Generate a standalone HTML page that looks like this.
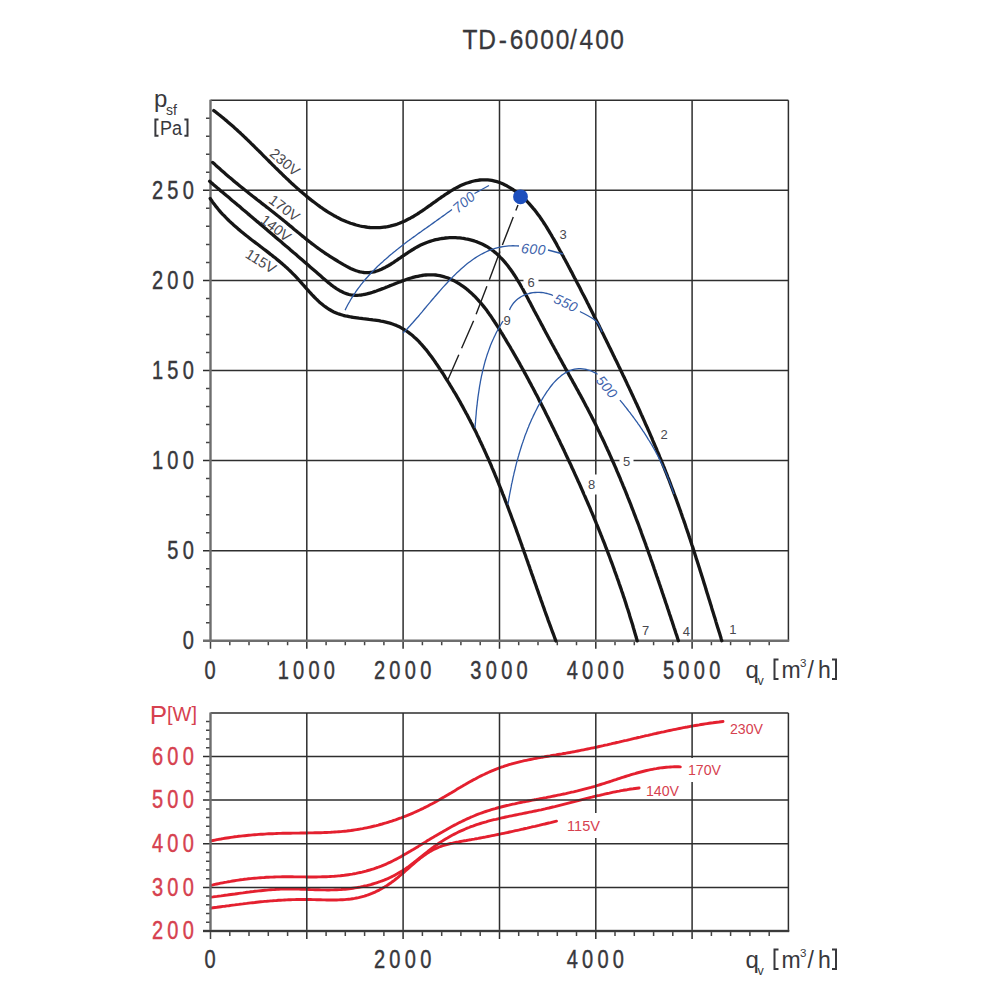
<!DOCTYPE html><html><head><meta charset="utf-8"><style>html,body{margin:0;padding:0;background:#fff;}svg{display:block;}text{font-family:"Liberation Sans",sans-serif;}</style></head><body>
<svg width="1000" height="1000" viewBox="0 0 1000 1000">
<rect width="1000" height="1000" fill="#fff"/>
<text transform="translate(470.0,49.1) scale(0.86,1)" font-size="28.5" fill="#38383c" stroke="#38383c" stroke-width="0.3" text-anchor="middle">T</text>
<text transform="translate(487.0,49.1) scale(0.86,1)" font-size="28.5" fill="#38383c" stroke="#38383c" stroke-width="0.3" text-anchor="middle">D</text>
<text transform="translate(502.8,49.1) scale(0.86,1)" font-size="28.5" fill="#38383c" stroke="#38383c" stroke-width="0.3" text-anchor="middle">-</text>
<text transform="translate(516.5,49.1) scale(0.86,1)" font-size="28.5" fill="#38383c" stroke="#38383c" stroke-width="0.3" text-anchor="middle">6</text>
<text transform="translate(531.5,49.1) scale(0.86,1)" font-size="28.5" fill="#38383c" stroke="#38383c" stroke-width="0.3" text-anchor="middle">0</text>
<text transform="translate(547.0,49.1) scale(0.86,1)" font-size="28.5" fill="#38383c" stroke="#38383c" stroke-width="0.3" text-anchor="middle">0</text>
<text transform="translate(562.5,49.1) scale(0.86,1)" font-size="28.5" fill="#38383c" stroke="#38383c" stroke-width="0.3" text-anchor="middle">0</text>
<text transform="translate(573.5,49.1) scale(0.86,1)" font-size="28.5" fill="#38383c" stroke="#38383c" stroke-width="0.3" text-anchor="middle">/</text>
<text transform="translate(586.3,49.1) scale(0.86,1)" font-size="28.5" fill="#38383c" stroke="#38383c" stroke-width="0.3" text-anchor="middle">4</text>
<text transform="translate(602.0,49.1) scale(0.86,1)" font-size="28.5" fill="#38383c" stroke="#38383c" stroke-width="0.3" text-anchor="middle">0</text>
<text transform="translate(617.0,49.1) scale(0.86,1)" font-size="28.5" fill="#38383c" stroke="#38383c" stroke-width="0.3" text-anchor="middle">0</text>
<path d="M306.8,100.2V648.8 M403.1,100.2V648.8 M499.5,100.2V648.8 M595.8,100.2V648.8 M692.1,100.2V648.8 M203.0,550.7H788.4 M203.0,460.6H788.4 M203.0,370.5H788.4 M203.0,280.4H788.4 M203.0,190.3H788.4 M210.5,100.2H788.4 M788.4,100.2V640.8" stroke="#2e2e2e" stroke-width="1.5" fill="none"/>
<path d="M206.0,622.8H210.5 M206.0,604.8H210.5 M206.0,586.7H210.5 M206.0,568.7H210.5 M206.0,532.7H210.5 M206.0,514.7H210.5 M206.0,496.6H210.5 M206.0,478.6H210.5 M206.0,442.6H210.5 M206.0,424.6H210.5 M206.0,406.5H210.5 M206.0,388.5H210.5 M206.0,352.5H210.5 M206.0,334.5H210.5 M206.0,316.4H210.5 M206.0,298.4H210.5 M206.0,262.4H210.5 M206.0,244.4H210.5 M206.0,226.3H210.5 M206.0,208.3H210.5 M206.0,172.3H210.5 M206.0,154.3H210.5 M206.0,136.2H210.5 M206.0,118.2H210.5 M229.8,640.8V645.3 M249.0,640.8V645.3 M268.3,640.8V645.3 M287.6,640.8V645.3 M326.1,640.8V645.3 M345.3,640.8V645.3 M364.6,640.8V645.3 M383.9,640.8V645.3 M422.4,640.8V645.3 M441.7,640.8V645.3 M460.9,640.8V645.3 M480.2,640.8V645.3 M518.7,640.8V645.3 M538.0,640.8V645.3 M557.3,640.8V645.3 M576.5,640.8V645.3 M615.0,640.8V645.3 M634.3,640.8V645.3 M653.6,640.8V645.3 M672.8,640.8V645.3 M711.4,640.8V645.3 M730.6,640.8V645.3 M749.9,640.8V645.3 M769.2,640.8V645.3 M210.5,640.8V648.8" stroke="#444" stroke-width="1.5" fill="none"/>
<path d="M210.5,99.7V641.8 M203.0,640.8H789.2" stroke="#6e6e6e" stroke-width="2.4" fill="none"/>
<path d="M213.8,110.6 L215.4,111.8 L216.9,113.0 L218.5,114.3 L220.1,115.5 L221.6,116.7 L223.2,118.0 L224.7,119.3 L226.3,120.6 L227.8,121.9 L229.3,123.2 L230.8,124.5 L232.3,125.8 L233.8,127.1 L235.3,128.5 L236.8,129.8 L238.3,131.2 L239.8,132.5 L241.2,133.9 L242.7,135.3 L244.1,136.6 L245.6,138.0 L247.0,139.4 L248.5,140.8 L249.9,142.2 L251.3,143.6 L252.8,145.0 L254.2,146.4 L255.6,147.8 L257.0,149.2 L258.5,150.6 L259.9,152.0 L261.3,153.4 L262.7,154.9 L264.1,156.3 L265.5,157.7 L266.9,159.1 L268.4,160.5 L269.8,162.0 L271.2,163.4 L272.6,164.8 L274.0,166.2 L275.4,167.6 L276.9,169.0 L278.3,170.4 L279.7,171.8 L281.2,173.2 L282.6,174.6 L284.0,176.0 L285.5,177.4 L286.9,178.8 L288.4,180.1 L289.8,181.5 L291.3,182.9 L292.8,184.2 L294.3,185.6 L295.7,186.9 L297.2,188.3 L298.7,189.6 L300.2,190.9 L301.8,192.2 L303.3,193.5 L304.8,194.8 L306.3,196.1 L307.9,197.4 L309.4,198.6 L311.0,199.9 L312.6,201.1 L314.2,202.3 L315.8,203.5 L317.4,204.7 L319.0,205.9 L320.6,207.1 L322.3,208.2 L323.9,209.4 L325.6,210.5 L327.3,211.6 L328.9,212.6 L330.7,213.7 L332.4,214.7 L334.1,215.7 L335.9,216.6 L337.6,217.6 L339.4,218.5 L341.2,219.4 L343.0,220.2 L344.9,221.0 L346.7,221.8 L348.6,222.5 L350.5,223.2 L352.4,223.8 L354.3,224.4 L356.2,225.0 L358.1,225.5 L360.1,226.0 L362.0,226.4 L364.0,226.7 L366.0,227.0 L368.0,227.3 L370.0,227.5 L372.0,227.6 L374.0,227.7 L376.0,227.7 L378.0,227.7 L380.0,227.6 L382.0,227.4 L383.9,227.2 L385.9,227.0 L387.9,226.6 L389.9,226.2 L391.8,225.7 L393.7,225.2 L395.7,224.6 L397.5,224.0 L399.4,223.3 L401.3,222.5 L403.1,221.7 L404.9,220.9 L406.7,220.0 L408.5,219.1 L410.3,218.2 L412.0,217.2 L413.8,216.2 L415.5,215.1 L417.2,214.1 L418.9,213.0 L420.5,211.9 L422.2,210.8 L423.9,209.7 L425.5,208.5 L427.1,207.4 L428.8,206.2 L430.4,205.1 L432.0,203.9 L433.7,202.7 L435.3,201.6 L436.9,200.4 L438.5,199.2 L440.2,198.1 L441.8,196.9 L443.5,195.8 L445.1,194.7 L446.8,193.6 L448.5,192.5 L450.2,191.4 L451.9,190.4 L453.6,189.3 L455.3,188.4 L457.1,187.4 L458.9,186.5 L460.7,185.6 L462.5,184.8 L464.4,184.0 L466.2,183.3 L468.1,182.7 L470.0,182.1 L471.9,181.5 L473.9,181.0 L475.8,180.6 L477.8,180.3 L479.8,180.0 L481.8,179.9 L483.8,179.8 L485.8,179.8 L487.8,179.9 L489.8,180.1 L491.8,180.4 L493.7,180.8 L495.7,181.3 L497.6,181.9 L499.5,182.5 L501.4,183.2 L503.2,184.0 L505.0,184.9 L506.8,185.8 L508.5,186.8 L510.2,187.8 L511.9,188.9 L513.6,190.0 L515.2,191.1 L516.8,192.3 L518.4,193.6 L520.0,194.8 L521.5,196.1 L523.0,197.5 L524.4,198.8 L525.9,200.2 L527.3,201.7 L528.7,203.1 L530.0,204.6 L531.3,206.1 L532.6,207.6 L533.9,209.2 L535.2,210.7 L536.4,212.3 L537.6,213.9 L538.8,215.5 L540.0,217.1 L541.1,218.8 L542.2,220.4 L543.4,222.1 L544.4,223.8 L545.5,225.4 L546.6,227.1 L547.6,228.8 L548.7,230.6 L549.7,232.3 L550.7,234.0 L551.7,235.7 L552.7,237.5 L553.7,239.2 L554.7,240.9 L555.7,242.7 L556.7,244.4 L557.6,246.2 L558.6,248.0 L559.5,249.7 L560.5,251.5 L561.5,253.2 L562.4,255.0 L563.4,256.7 L564.3,258.5 L565.3,260.3 L566.2,262.0 L567.2,263.8 L568.1,265.6 L569.0,267.3 L570.0,269.1 L570.9,270.9 L571.9,272.6 L572.8,274.4 L573.7,276.2 L574.6,278.0 L575.6,279.7 L576.5,281.5 L577.4,283.3 L578.4,285.1 L579.3,286.8 L580.2,288.6 L581.1,290.4 L582.0,292.2 L582.9,293.9 L583.9,295.7 L584.8,297.5 L585.7,299.3 L586.6,301.1 L587.5,302.9 L588.4,304.6 L589.3,306.4 L590.2,308.2 L591.1,310.0 L592.0,311.8 L592.9,313.6 L593.8,315.4 L594.7,317.2 L595.6,318.9 L596.5,320.7 L597.4,322.5 L598.3,324.3 L599.2,326.1 L600.1,327.9 L601.0,329.7 L601.8,331.5 L602.7,333.3 L603.6,335.1 L604.5,336.9 L605.4,338.7 L606.3,340.5 L607.1,342.3 L608.0,344.1 L608.9,345.9 L609.8,347.7 L610.7,349.5 L611.5,351.3 L612.4,353.1 L613.3,354.9 L614.2,356.7 L615.0,358.5 L615.9,360.3 L616.8,362.1 L617.7,363.9 L618.5,365.7 L619.4,367.5 L620.3,369.3 L621.1,371.1 L622.0,372.9 L622.8,374.7 L623.7,376.5 L624.6,378.3 L625.4,380.1 L626.3,381.9 L627.1,383.7 L628.0,385.6 L628.9,387.4 L629.7,389.2 L630.6,391.0 L631.4,392.8 L632.2,394.6 L633.1,396.4 L633.9,398.2 L634.8,400.1 L635.6,401.9 L636.5,403.7 L637.3,405.5 L638.1,407.3 L639.0,409.2 L639.8,411.0 L640.6,412.8 L641.4,414.6 L642.3,416.5 L643.1,418.3 L643.9,420.1 L644.7,421.9 L645.5,423.8 L646.3,425.6 L647.2,427.4 L648.0,429.3 L648.8,431.1 L649.6,432.9 L650.4,434.8 L651.2,436.6 L652.0,438.4 L652.7,440.3 L653.5,442.1 L654.3,444.0 L655.1,445.8 L655.9,447.6 L656.7,449.5 L657.4,451.3 L658.2,453.2 L659.0,455.0 L659.7,456.9 L660.5,458.7 L661.3,460.6 L662.0,462.4 L662.8,464.3 L663.5,466.1 L664.3,468.0 L665.0,469.9 L665.7,471.7 L666.5,473.6 L667.2,475.4 L667.9,477.3 L668.7,479.2 L669.4,481.0 L670.1,482.9 L670.8,484.8 L671.5,486.7 L672.2,488.5 L672.9,490.4 L673.6,492.3 L674.3,494.2 L675.0,496.0 L675.7,497.9 L676.4,499.8 L677.1,501.7 L677.8,503.6 L678.4,505.4 L679.1,507.3 L679.8,509.2 L680.5,511.1 L681.1,513.0 L681.8,514.9 L682.4,516.8 L683.1,518.7 L683.8,520.5 L684.4,522.4 L685.1,524.3 L685.7,526.2 L686.3,528.1 L687.0,530.0 L687.6,531.9 L688.3,533.8 L688.9,535.7 L689.5,537.6 L690.2,539.5 L690.8,541.4 L691.4,543.3 L692.0,545.2 L692.7,547.1 L693.3,549.0 L693.9,550.9 L694.5,552.8 L695.1,554.7 L695.7,556.6 L696.3,558.6 L697.0,560.5 L697.6,562.4 L698.2,564.3 L698.8,566.2 L699.4,568.1 L700.0,570.0 L700.6,571.9 L701.2,573.8 L701.8,575.7 L702.4,577.6 L703.0,579.5 L703.6,581.5 L704.2,583.4 L704.8,585.3 L705.4,587.2 L705.9,589.1 L706.5,591.0 L707.1,592.9 L707.7,594.8 L708.3,596.8 L708.9,598.7 L709.5,600.6 L710.1,602.5 L710.7,604.4 L711.3,606.3 L711.8,608.2 L712.4,610.2 L713.0,612.1 L713.6,614.0 L714.2,615.9 L714.8,617.8 L715.4,619.7 L715.9,621.6 L716.5,623.6 L717.1,625.5 L717.7,627.4 L718.3,629.3 L718.9,631.2 L719.5,633.1 L720.1,635.0 L720.7,636.9 L721.2,638.9 L721.8,640.8" stroke="#161616" stroke-width="3.3" fill="none" stroke-linecap="round" stroke-linejoin="round"/>
<path d="M212.7,162.4 L214.2,163.7 L215.6,165.1 L217.1,166.5 L218.6,167.8 L220.1,169.1 L221.6,170.5 L223.1,171.8 L224.6,173.1 L226.1,174.4 L227.6,175.7 L229.1,177.0 L230.7,178.3 L232.2,179.6 L233.7,180.9 L235.3,182.2 L236.8,183.4 L238.4,184.7 L239.9,186.0 L241.5,187.2 L243.1,188.5 L244.6,189.7 L246.2,191.0 L247.8,192.2 L249.3,193.5 L250.9,194.7 L252.5,196.0 L254.1,197.2 L255.6,198.4 L257.2,199.7 L258.8,200.9 L260.4,202.1 L261.9,203.4 L263.5,204.6 L265.1,205.8 L266.7,207.1 L268.3,208.3 L269.8,209.5 L271.4,210.8 L273.0,212.0 L274.6,213.3 L276.1,214.5 L277.7,215.8 L279.3,217.0 L280.8,218.3 L282.4,219.5 L283.9,220.8 L285.5,222.0 L287.0,223.3 L288.6,224.6 L290.1,225.9 L291.7,227.1 L293.2,228.4 L294.7,229.7 L296.3,231.0 L297.8,232.3 L299.4,233.5 L300.9,234.8 L302.5,236.1 L304.0,237.3 L305.6,238.6 L307.1,239.9 L308.7,241.1 L310.3,242.3 L311.9,243.6 L313.5,244.8 L315.1,246.0 L316.7,247.2 L318.3,248.4 L319.9,249.5 L321.5,250.7 L323.2,251.8 L324.8,253.0 L326.5,254.1 L328.2,255.2 L329.9,256.3 L331.6,257.4 L333.2,258.4 L335.0,259.5 L336.7,260.5 L338.4,261.6 L340.1,262.6 L341.8,263.6 L343.5,264.6 L345.3,265.6 L347.1,266.6 L348.8,267.5 L350.6,268.4 L352.4,269.2 L354.3,270.0 L356.2,270.7 L358.1,271.3 L360.0,271.8 L362.0,272.2 L364.0,272.5 L365.9,272.6 L368.0,272.6 L369.9,272.5 L371.9,272.2 L373.9,271.8 L375.8,271.3 L377.7,270.7 L379.6,270.0 L381.5,269.2 L383.3,268.3 L385.1,267.4 L386.8,266.5 L388.6,265.5 L390.3,264.5 L392.0,263.4 L393.7,262.3 L395.3,261.2 L397.0,260.1 L398.6,258.9 L400.3,257.8 L401.9,256.7 L403.6,255.5 L405.3,254.4 L406.9,253.3 L408.6,252.2 L410.3,251.1 L412.0,250.0 L413.7,249.0 L415.4,247.9 L417.1,247.0 L418.9,246.0 L420.7,245.1 L422.5,244.3 L424.3,243.5 L426.2,242.7 L428.1,242.0 L430.0,241.4 L431.9,240.8 L433.8,240.2 L435.7,239.7 L437.7,239.3 L439.7,238.9 L441.6,238.5 L443.6,238.3 L445.6,238.0 L447.6,237.8 L449.6,237.7 L451.6,237.7 L453.6,237.6 L455.6,237.7 L457.6,237.8 L459.6,237.9 L461.6,238.2 L463.6,238.4 L465.6,238.8 L467.5,239.1 L469.5,239.6 L471.4,240.1 L473.3,240.6 L475.2,241.3 L477.1,241.9 L479.0,242.7 L480.8,243.5 L482.6,244.3 L484.4,245.2 L486.2,246.2 L487.9,247.2 L489.6,248.3 L491.2,249.4 L492.9,250.6 L494.4,251.9 L496.0,253.1 L497.5,254.5 L498.9,255.8 L500.3,257.3 L501.7,258.7 L503.1,260.2 L504.4,261.7 L505.7,263.2 L507.0,264.8 L508.2,266.3 L509.4,267.9 L510.6,269.5 L511.8,271.2 L512.9,272.8 L514.0,274.5 L515.1,276.2 L516.2,277.9 L517.2,279.6 L518.3,281.3 L519.3,283.0 L520.3,284.7 L521.3,286.5 L522.3,288.2 L523.3,290.0 L524.2,291.7 L525.2,293.5 L526.1,295.3 L527.1,297.0 L528.0,298.8 L528.9,300.6 L529.9,302.3 L530.8,304.1 L531.7,305.9 L532.7,307.7 L533.6,309.4 L534.5,311.2 L535.5,313.0 L536.4,314.7 L537.4,316.5 L538.3,318.3 L539.2,320.0 L540.2,321.8 L541.1,323.6 L542.1,325.4 L543.0,327.1 L543.9,328.9 L544.9,330.7 L545.8,332.4 L546.8,334.2 L547.7,335.9 L548.7,337.7 L549.6,339.5 L550.6,341.2 L551.5,343.0 L552.5,344.8 L553.5,346.5 L554.4,348.3 L555.4,350.0 L556.3,351.8 L557.3,353.5 L558.3,355.3 L559.2,357.1 L560.2,358.8 L561.2,360.6 L562.1,362.3 L563.1,364.1 L564.1,365.8 L565.0,367.6 L566.0,369.3 L567.0,371.1 L568.0,372.8 L568.9,374.6 L569.9,376.3 L570.9,378.1 L571.9,379.8 L572.8,381.6 L573.8,383.3 L574.8,385.1 L575.7,386.8 L576.7,388.6 L577.7,390.3 L578.6,392.1 L579.6,393.9 L580.6,395.6 L581.5,397.4 L582.5,399.1 L583.4,400.9 L584.4,402.7 L585.3,404.4 L586.2,406.2 L587.2,408.0 L588.1,409.8 L589.0,411.5 L589.9,413.3 L590.9,415.1 L591.8,416.9 L592.7,418.7 L593.6,420.5 L594.5,422.3 L595.4,424.0 L596.3,425.8 L597.1,427.6 L598.0,429.4 L598.9,431.2 L599.8,433.0 L600.6,434.9 L601.5,436.7 L602.4,438.5 L603.2,440.3 L604.1,442.1 L604.9,443.9 L605.7,445.7 L606.6,447.5 L607.4,449.4 L608.3,451.2 L609.1,453.0 L609.9,454.8 L610.7,456.7 L611.5,458.5 L612.3,460.3 L613.2,462.2 L614.0,464.0 L614.8,465.8 L615.6,467.7 L616.4,469.5 L617.1,471.4 L617.9,473.2 L618.7,475.0 L619.5,476.9 L620.3,478.7 L621.0,480.6 L621.8,482.4 L622.6,484.3 L623.3,486.1 L624.1,488.0 L624.9,489.8 L625.6,491.7 L626.4,493.6 L627.1,495.4 L627.8,497.3 L628.6,499.1 L629.3,501.0 L630.1,502.9 L630.8,504.7 L631.5,506.6 L632.2,508.5 L633.0,510.3 L633.7,512.2 L634.4,514.1 L635.1,515.9 L635.8,517.8 L636.5,519.7 L637.3,521.6 L638.0,523.4 L638.7,525.3 L639.4,527.2 L640.1,529.1 L640.8,530.9 L641.4,532.8 L642.1,534.7 L642.8,536.6 L643.5,538.5 L644.2,540.3 L644.9,542.2 L645.6,544.1 L646.2,546.0 L646.9,547.9 L647.6,549.8 L648.3,551.7 L648.9,553.5 L649.6,555.4 L650.3,557.3 L650.9,559.2 L651.6,561.1 L652.3,563.0 L652.9,564.9 L653.6,566.8 L654.2,568.7 L654.9,570.6 L655.5,572.5 L656.2,574.4 L656.8,576.2 L657.5,578.1 L658.1,580.0 L658.8,581.9 L659.4,583.8 L660.1,585.7 L660.7,587.6 L661.4,589.5 L662.0,591.4 L662.6,593.3 L663.3,595.2 L663.9,597.1 L664.6,599.0 L665.2,600.9 L665.8,602.8 L666.5,604.7 L667.1,606.6 L667.7,608.5 L668.4,610.4 L669.0,612.3 L669.6,614.2 L670.3,616.1 L670.9,618.0 L671.5,619.9 L672.2,621.8 L672.8,623.7 L673.4,625.6 L674.0,627.5 L674.7,629.4 L675.3,631.3 L675.9,633.2 L676.6,635.1 L677.2,637.0 L677.8,638.9 L678.4,640.8" stroke="#161616" stroke-width="3.3" fill="none" stroke-linecap="round" stroke-linejoin="round"/>
<path d="M209.6,181.3 L211.1,182.6 L212.7,183.9 L214.2,185.2 L215.7,186.5 L217.2,187.8 L218.8,189.1 L220.3,190.4 L221.8,191.7 L223.4,192.9 L224.9,194.2 L226.4,195.5 L228.0,196.8 L229.5,198.1 L231.0,199.4 L232.5,200.7 L234.1,202.0 L235.6,203.3 L237.1,204.6 L238.7,205.8 L240.2,207.1 L241.7,208.4 L243.2,209.7 L244.8,211.0 L246.3,212.3 L247.8,213.6 L249.4,214.9 L250.9,216.2 L252.4,217.5 L253.9,218.8 L255.5,220.1 L257.0,221.4 L258.5,222.6 L260.0,223.9 L261.6,225.2 L263.1,226.5 L264.6,227.8 L266.2,229.1 L267.7,230.4 L269.2,231.7 L270.7,233.0 L272.2,234.3 L273.8,235.6 L275.3,236.9 L276.8,238.2 L278.3,239.5 L279.9,240.8 L281.4,242.1 L282.9,243.4 L284.4,244.7 L285.9,246.0 L287.5,247.3 L289.0,248.6 L290.5,249.9 L292.0,251.2 L293.5,252.5 L295.1,253.8 L296.6,255.1 L298.1,256.4 L299.6,257.7 L301.1,259.0 L302.6,260.3 L304.2,261.7 L305.7,263.0 L307.2,264.3 L308.7,265.6 L310.2,266.9 L311.7,268.2 L313.2,269.5 L314.7,270.8 L316.2,272.1 L317.8,273.5 L319.3,274.8 L320.8,276.1 L322.3,277.4 L323.8,278.7 L325.3,280.0 L326.8,281.3 L328.4,282.6 L329.9,283.8 L331.5,285.1 L333.1,286.3 L334.7,287.4 L336.4,288.6 L338.1,289.6 L339.8,290.7 L341.6,291.6 L343.4,292.5 L345.2,293.2 L347.1,293.9 L349.0,294.5 L351.0,294.9 L353.0,295.1 L355.0,295.3 L357.0,295.3 L359.0,295.2 L361.0,295.0 L362.9,294.7 L364.9,294.3 L366.8,293.9 L368.8,293.4 L370.7,292.9 L372.6,292.3 L374.5,291.6 L376.4,291.0 L378.3,290.3 L380.2,289.6 L382.0,288.9 L383.9,288.2 L385.8,287.4 L387.6,286.7 L389.5,285.9 L391.3,285.2 L393.2,284.5 L395.1,283.7 L396.9,283.0 L398.8,282.3 L400.7,281.6 L402.5,280.9 L404.4,280.2 L406.3,279.5 L408.2,278.9 L410.1,278.3 L412.0,277.7 L414.0,277.2 L415.9,276.7 L417.9,276.3 L419.8,275.9 L421.8,275.5 L423.8,275.2 L425.8,275.0 L427.7,274.9 L429.7,274.8 L431.7,274.8 L433.7,274.9 L435.7,275.0 L437.7,275.3 L439.7,275.6 L441.6,276.1 L443.6,276.6 L445.5,277.2 L447.4,277.8 L449.2,278.6 L451.1,279.4 L452.9,280.2 L454.7,281.1 L456.4,282.1 L458.1,283.1 L459.8,284.2 L461.5,285.3 L463.1,286.4 L464.8,287.6 L466.3,288.8 L467.9,290.1 L469.4,291.4 L470.9,292.7 L472.4,294.1 L473.8,295.5 L475.3,296.9 L476.6,298.3 L478.0,299.8 L479.3,301.3 L480.7,302.8 L481.9,304.3 L483.2,305.9 L484.4,307.4 L485.7,309.0 L486.9,310.6 L488.0,312.2 L489.2,313.9 L490.4,315.5 L491.5,317.1 L492.6,318.8 L493.7,320.5 L494.8,322.2 L495.9,323.8 L497.0,325.5 L498.0,327.2 L499.1,328.9 L500.2,330.6 L501.2,332.3 L502.3,334.0 L503.3,335.7 L504.3,337.4 L505.4,339.1 L506.4,340.9 L507.4,342.6 L508.5,344.3 L509.5,346.0 L510.5,347.7 L511.5,349.5 L512.5,351.2 L513.5,352.9 L514.5,354.7 L515.5,356.4 L516.5,358.1 L517.5,359.9 L518.5,361.6 L519.5,363.4 L520.4,365.1 L521.4,366.8 L522.4,368.6 L523.4,370.3 L524.3,372.1 L525.3,373.9 L526.2,375.6 L527.2,377.4 L528.1,379.1 L529.1,380.9 L530.0,382.7 L531.0,384.4 L531.9,386.2 L532.9,388.0 L533.8,389.7 L534.7,391.5 L535.6,393.3 L536.6,395.0 L537.5,396.8 L538.4,398.6 L539.3,400.4 L540.2,402.2 L541.2,403.9 L542.1,405.7 L543.0,407.5 L543.9,409.3 L544.8,411.1 L545.7,412.9 L546.6,414.7 L547.5,416.4 L548.4,418.2 L549.2,420.0 L550.1,421.8 L551.0,423.6 L551.9,425.4 L552.8,427.2 L553.7,429.0 L554.5,430.8 L555.4,432.6 L556.3,434.4 L557.2,436.2 L558.0,438.0 L558.9,439.8 L559.8,441.6 L560.6,443.4 L561.5,445.2 L562.4,447.0 L563.2,448.8 L564.1,450.6 L564.9,452.4 L565.8,454.3 L566.6,456.1 L567.5,457.9 L568.3,459.7 L569.2,461.5 L570.0,463.3 L570.9,465.1 L571.7,467.0 L572.5,468.8 L573.4,470.6 L574.2,472.4 L575.0,474.2 L575.9,476.1 L576.7,477.9 L577.5,479.7 L578.3,481.5 L579.2,483.3 L580.0,485.2 L580.8,487.0 L581.6,488.8 L582.4,490.7 L583.2,492.5 L584.0,494.3 L584.8,496.2 L585.6,498.0 L586.4,499.8 L587.2,501.7 L588.0,503.5 L588.8,505.3 L589.6,507.2 L590.4,509.0 L591.1,510.9 L591.9,512.7 L592.7,514.6 L593.5,516.4 L594.2,518.3 L595.0,520.1 L595.8,522.0 L596.5,523.8 L597.3,525.7 L598.0,527.5 L598.8,529.4 L599.5,531.2 L600.3,533.1 L601.0,534.9 L601.8,536.8 L602.5,538.7 L603.2,540.5 L604.0,542.4 L604.7,544.2 L605.4,546.1 L606.1,548.0 L606.9,549.8 L607.6,551.7 L608.3,553.6 L609.0,555.4 L609.7,557.3 L610.4,559.2 L611.1,561.1 L611.8,562.9 L612.5,564.8 L613.2,566.7 L613.9,568.6 L614.5,570.5 L615.2,572.3 L615.9,574.2 L616.6,576.1 L617.2,578.0 L617.9,579.9 L618.6,581.8 L619.2,583.7 L619.9,585.6 L620.5,587.4 L621.2,589.3 L621.8,591.2 L622.5,593.1 L623.1,595.0 L623.7,596.9 L624.4,598.8 L625.0,600.7 L625.6,602.6 L626.2,604.5 L626.8,606.4 L627.4,608.3 L628.1,610.2 L628.7,612.2 L629.3,614.1 L629.8,616.0 L630.4,617.9 L631.0,619.8 L631.6,621.7 L632.2,623.6 L632.8,625.5 L633.3,627.5 L633.9,629.4 L634.4,631.3 L635.0,633.2 L635.6,635.2 L636.1,637.1 L636.7,639.0 L637.2,640.9" stroke="#161616" stroke-width="3.3" fill="none" stroke-linecap="round" stroke-linejoin="round"/>
<path d="M210.2,198.6 L211.4,200.2 L212.5,201.9 L213.7,203.5 L214.9,205.1 L216.1,206.7 L217.4,208.2 L218.7,209.8 L220.0,211.3 L221.3,212.8 L222.7,214.3 L224.1,215.7 L225.5,217.2 L226.9,218.6 L228.3,220.0 L229.7,221.4 L231.2,222.8 L232.7,224.1 L234.2,225.5 L235.7,226.8 L237.2,228.1 L238.7,229.4 L240.3,230.7 L241.8,232.0 L243.4,233.3 L244.9,234.5 L246.5,235.8 L248.1,237.0 L249.6,238.2 L251.2,239.5 L252.8,240.7 L254.4,241.9 L256.0,243.1 L257.6,244.3 L259.2,245.5 L260.8,246.8 L262.4,248.0 L264.0,249.2 L265.6,250.4 L267.2,251.6 L268.8,252.9 L270.3,254.1 L271.9,255.3 L273.5,256.6 L275.1,257.8 L276.6,259.1 L278.2,260.4 L279.7,261.6 L281.2,262.9 L282.8,264.2 L284.3,265.6 L285.8,266.9 L287.3,268.3 L288.7,269.6 L290.2,271.0 L291.6,272.4 L293.0,273.8 L294.4,275.2 L295.8,276.7 L297.2,278.2 L298.5,279.6 L299.9,281.1 L301.2,282.6 L302.5,284.1 L303.9,285.6 L305.2,287.1 L306.5,288.6 L307.9,290.1 L309.2,291.6 L310.6,293.1 L311.9,294.6 L313.3,296.0 L314.7,297.5 L316.1,298.9 L317.6,300.3 L319.0,301.7 L320.5,303.0 L322.1,304.3 L323.6,305.5 L325.2,306.7 L326.9,307.9 L328.5,309.0 L330.3,310.0 L332.0,311.0 L333.8,311.9 L335.6,312.7 L337.5,313.5 L339.4,314.1 L341.3,314.7 L343.2,315.3 L345.2,315.8 L347.1,316.2 L349.1,316.6 L351.1,317.0 L353.1,317.3 L355.0,317.6 L357.0,317.9 L359.0,318.2 L361.0,318.4 L363.0,318.7 L365.0,318.9 L367.0,319.1 L369.0,319.4 L371.0,319.6 L372.9,319.9 L374.9,320.1 L376.9,320.4 L378.9,320.7 L380.9,321.1 L382.8,321.4 L384.8,321.8 L386.8,322.3 L388.7,322.8 L390.6,323.4 L392.5,324.0 L394.4,324.7 L396.3,325.4 L398.1,326.2 L399.9,327.1 L401.7,328.1 L403.4,329.1 L405.1,330.1 L406.8,331.2 L408.4,332.4 L410.0,333.6 L411.6,334.8 L413.1,336.1 L414.6,337.5 L416.1,338.8 L417.6,340.2 L419.0,341.6 L420.3,343.1 L421.7,344.6 L423.0,346.1 L424.3,347.6 L425.6,349.2 L426.9,350.7 L428.1,352.3 L429.3,353.9 L430.5,355.5 L431.7,357.1 L432.9,358.7 L434.1,360.4 L435.2,362.0 L436.3,363.7 L437.5,365.3 L438.6,367.0 L439.7,368.7 L440.8,370.3 L441.9,372.0 L443.0,373.7 L444.1,375.4 L445.1,377.1 L446.2,378.8 L447.3,380.5 L448.3,382.2 L449.4,383.9 L450.4,385.6 L451.5,387.3 L452.5,389.0 L453.5,390.8 L454.6,392.5 L455.6,394.2 L456.6,395.9 L457.6,397.7 L458.6,399.4 L459.6,401.2 L460.6,402.9 L461.5,404.7 L462.5,406.4 L463.5,408.2 L464.4,409.9 L465.4,411.7 L466.3,413.5 L467.3,415.2 L468.2,417.0 L469.1,418.8 L470.1,420.6 L471.0,422.4 L471.9,424.1 L472.8,425.9 L473.7,427.7 L474.6,429.5 L475.5,431.3 L476.4,433.1 L477.2,434.9 L478.1,436.7 L479.0,438.5 L479.8,440.4 L480.7,442.2 L481.5,444.0 L482.4,445.8 L483.2,447.6 L484.1,449.5 L484.9,451.3 L485.7,453.1 L486.5,454.9 L487.3,456.8 L488.2,458.6 L489.0,460.4 L489.8,462.3 L490.6,464.1 L491.4,466.0 L492.1,467.8 L492.9,469.7 L493.7,471.5 L494.5,473.4 L495.2,475.2 L496.0,477.1 L496.8,478.9 L497.5,480.8 L498.3,482.6 L499.0,484.5 L499.8,486.3 L500.5,488.2 L501.3,490.1 L502.0,491.9 L502.7,493.8 L503.5,495.7 L504.2,497.5 L504.9,499.4 L505.6,501.3 L506.4,503.2 L507.1,505.0 L507.8,506.9 L508.5,508.8 L509.2,510.7 L509.9,512.5 L510.6,514.4 L511.3,516.3 L512.0,518.2 L512.7,520.1 L513.4,521.9 L514.1,523.8 L514.8,525.7 L515.5,527.6 L516.2,529.5 L516.8,531.4 L517.5,533.3 L518.2,535.1 L518.9,537.0 L519.5,538.9 L520.2,540.8 L520.9,542.7 L521.6,544.6 L522.2,546.5 L522.9,548.4 L523.6,550.3 L524.2,552.1 L524.9,554.0 L525.6,555.9 L526.2,557.8 L526.9,559.7 L527.6,561.6 L528.2,563.5 L528.9,565.4 L529.6,567.3 L530.2,569.2 L530.9,571.1 L531.5,573.0 L532.2,574.9 L532.9,576.8 L533.5,578.6 L534.2,580.5 L534.8,582.4 L535.5,584.3 L536.2,586.2 L536.8,588.1 L537.5,590.0 L538.2,591.9 L538.8,593.8 L539.5,595.7 L540.2,597.6 L540.8,599.5 L541.5,601.4 L542.2,603.3 L542.8,605.1 L543.5,607.0 L544.2,608.9 L544.8,610.8 L545.5,612.7 L546.2,614.6 L546.9,616.5 L547.6,618.4 L548.2,620.3 L548.9,622.1 L549.6,624.0 L550.3,625.9 L551.0,627.8 L551.7,629.7 L552.4,631.6 L553.1,633.4 L553.8,635.3 L554.5,637.2 L555.2,639.1 L555.9,641.0" stroke="#161616" stroke-width="3.3" fill="none" stroke-linecap="round" stroke-linejoin="round"/>
<path d="M518,205 L502,246 L487,286 L473.5,321 L448,379.5" stroke="#1e1e1e" stroke-width="1.4" fill="none" stroke-dasharray="30,7" stroke-dashoffset="24"/>
<path d="M345.1,310.1 L346.0,308.3 L346.9,306.5 L347.8,304.8 L348.8,303.0 L349.8,301.3 L350.8,299.5 L351.8,297.8 L352.9,296.1 L354.0,294.4 L355.1,292.8 L356.2,291.1 L357.4,289.5 L358.6,287.9 L359.8,286.3 L361.0,284.7 L362.3,283.1 L363.5,281.5 L364.8,280.0 L366.1,278.5 L367.5,277.0 L368.8,275.5 L370.2,274.0 L371.5,272.5 L372.9,271.1 L374.3,269.7 L375.8,268.2 L377.2,266.8 L378.6,265.4 L380.1,264.1 L381.6,262.7 L383.1,261.4 L384.5,260.0 L386.1,258.7 L387.6,257.4 L389.1,256.1 L390.6,254.8 L392.2,253.5 L393.7,252.2 L395.3,251.0 L396.8,249.7 L398.4,248.5 L400.0,247.2 L401.6,246.0 L403.2,244.8 L404.8,243.6 L406.4,242.3 L408.0,241.1 L409.6,239.9 L411.2,238.8 L412.8,237.6 L414.5,236.4 L416.1,235.2 L417.7,234.0 L419.3,232.9 L421.0,231.7 L422.6,230.5 L424.2,229.4 L425.9,228.2 L427.5,227.1 L429.2,225.9 L430.8,224.7 L432.4,223.6 L434.1,222.4 L435.7,221.3 L437.3,220.1 L439.0,218.9 L440.6,217.8 L442.2,216.6 L443.9,215.4 L445.5,214.2 L447.1,213.0 L448.7,211.9 L450.3,210.7 L452.0,209.5" stroke="#2d5aa6" stroke-width="1.3" fill="none" stroke-linejoin="round"/>
<path d="M474.5,193.5 C476.9,192.2 486.6,186.8 489.0,185.5" stroke="#2d5aa6" stroke-width="1.3" fill="none" stroke-linejoin="round"/>
<path d="M403.1,333.0 L404.5,331.6 L405.9,330.1 L407.3,328.7 L408.6,327.2 L410.0,325.7 L411.3,324.2 L412.7,322.7 L414.0,321.2 L415.3,319.7 L416.6,318.2 L418.0,316.7 L419.3,315.2 L420.6,313.6 L421.9,312.1 L423.1,310.6 L424.4,309.0 L425.7,307.5 L427.0,305.9 L428.3,304.4 L429.6,302.9 L430.9,301.3 L432.2,299.8 L433.5,298.3 L434.8,296.7 L436.1,295.2 L437.4,293.7 L438.7,292.2 L440.1,290.6 L441.4,289.1 L442.7,287.6 L444.1,286.1 L445.4,284.7 L446.8,283.2 L448.1,281.7 L449.5,280.3 L450.9,278.8 L452.3,277.4 L453.7,275.9 L455.2,274.5 L456.6,273.1 L458.1,271.7 L459.5,270.4 L461.0,269.0 L462.5,267.7 L464.0,266.4 L465.6,265.1 L467.1,263.8 L468.7,262.6 L470.3,261.4 L471.9,260.2 L473.6,259.0 L475.3,257.9 L477.0,256.8 L478.7,255.8 L480.4,254.8 L482.2,253.8 L484.0,252.9 L485.8,252.0 L487.6,251.2 L489.4,250.4 L491.3,249.7 L493.2,249.0 L495.1,248.4 L497.1,247.9 L499.0,247.4 L501.0,247.0 L503.0,246.6 L504.9,246.3 L506.9,246.1 L508.9,245.9 L510.9,245.8 L513.0,245.7 L515.0,245.8 L517.0,245.8 L519.0,246.0" stroke="#2d5aa6" stroke-width="1.3" fill="none" stroke-linejoin="round"/>
<path d="M548.0,250.0 C550.5,250.7 560.5,253.3 563.0,254.0" stroke="#2d5aa6" stroke-width="1.3" fill="none" stroke-linejoin="round"/>
<path d="M475.0,428.0 L475.1,426.0 L475.3,423.9 L475.5,421.9 L475.6,419.9 L475.8,417.9 L476.0,415.8 L476.2,413.8 L476.3,411.8 L476.5,409.8 L476.7,407.7 L477.0,405.7 L477.2,403.7 L477.4,401.7 L477.7,399.7 L477.9,397.6 L478.2,395.6 L478.5,393.6 L478.8,391.6 L479.1,389.6 L479.4,387.6 L479.7,385.6 L480.1,383.6 L480.4,381.6 L480.8,379.6 L481.2,377.6 L481.6,375.6 L482.1,373.6 L482.5,371.6 L483.0,369.6 L483.5,367.7 L484.0,365.7 L484.5,363.7 L485.0,361.8 L485.6,359.8 L486.2,357.9 L486.8,355.9 L487.4,354.0 L488.1,352.1 L488.8,350.1 L489.5,348.2 L490.2,346.3 L490.9,344.4 L491.7,342.6 L492.5,340.7 L493.4,338.8 L494.2,337.0 L495.1,335.2 L496.0,333.3 L496.9,331.5 L497.9,329.7 L498.9,328.0 L499.9,326.2 L500.9,324.5 L502.0,322.7 L503.1,321.0" stroke="#2d5aa6" stroke-width="1.3" fill="none" stroke-linejoin="round"/>
<path d="M509.5,310.0 L510.3,308.1 L511.3,306.3 L512.4,304.6 L513.6,303.0 L515.0,301.5 L516.5,300.0 L518.0,298.7 L519.7,297.6 L521.4,296.5 L523.3,295.6 L525.1,294.7 L527.1,294.1 L529.0,293.5 L531.0,293.0 L533.0,292.7 L535.1,292.5 L537.1,292.4 L539.1,292.4 L541.2,292.5 L543.2,292.7 L545.2,293.1 L547.2,293.5 L549.2,294.1 L551.1,294.7 L553.0,295.5" stroke="#2d5aa6" stroke-width="1.3" fill="none" stroke-linejoin="round"/>
<path d="M580.0,311.5 C582.7,313.1 592.3,317.6 596.0,321.0 C599.7,324.4 601.0,330.2 602.0,332.0" stroke="#2d5aa6" stroke-width="1.3" fill="none" stroke-linejoin="round"/>
<path d="M507.9,504.5 L508.2,502.5 L508.6,500.5 L508.9,498.5 L509.3,496.5 L509.6,494.6 L510.0,492.6 L510.4,490.6 L510.8,488.6 L511.2,486.7 L511.5,484.7 L512.0,482.7 L512.4,480.8 L512.8,478.8 L513.2,476.8 L513.7,474.9 L514.1,472.9 L514.6,471.0 L515.1,469.0 L515.5,467.1 L516.0,465.1 L516.5,463.2 L517.0,461.2 L517.6,459.3 L518.1,457.4 L518.7,455.4 L519.2,453.5 L519.8,451.6 L520.4,449.6 L521.0,447.7 L521.6,445.8 L522.2,443.9 L522.9,442.0 L523.5,440.1 L524.2,438.2 L524.8,436.3 L525.5,434.4 L526.3,432.5 L527.0,430.7 L527.7,428.8 L528.5,426.9 L529.2,425.1 L530.0,423.2 L530.8,421.4 L531.6,419.5 L532.5,417.7 L533.3,415.9 L534.2,414.1 L535.1,412.3 L536.0,410.5 L536.9,408.7 L537.8,406.9 L538.8,405.1 L539.8,403.4 L540.7,401.6 L541.8,399.9 L542.8,398.2 L543.8,396.5 L544.9,394.8 L546.0,393.1 L547.1,391.4 L548.3,389.8 L549.5,388.1 L550.7,386.5 L551.9,385.0 L553.2,383.4 L554.6,381.9 L555.9,380.5 L557.4,379.0 L558.8,377.7 L560.4,376.4 L561.9,375.1 L563.6,374.0 L565.3,372.9 L567.0,371.9 L568.9,371.1 L570.7,370.3 L572.6,369.7 L574.6,369.2 L576.6,368.9 L578.6,368.7 L580.6,368.7 L582.6,368.8 L584.6,369.1 L586.5,369.5 L588.5,370.1 L590.4,370.7 L592.2,371.5 L594.1,372.3 L595.9,373.2 L597.6,374.2" stroke="#2d5aa6" stroke-width="1.3" fill="none" stroke-linejoin="round"/>
<path d="M619.9,400.1 L621.2,401.6 L622.5,403.2 L623.7,404.7 L625.0,406.3 L626.3,407.9 L627.5,409.5 L628.7,411.1 L630.0,412.7 L631.2,414.3 L632.4,415.9 L633.6,417.5 L634.8,419.2 L636.0,420.8 L637.2,422.4 L638.3,424.1 L639.5,425.7 L640.6,427.4 L641.8,429.1 L642.9,430.8 L644.0,432.4 L645.1,434.1 L646.2,435.8 L647.3,437.6 L648.3,439.3 L649.4,441.0 L650.4,442.7 L651.5,444.5 L652.5,446.2 L653.5,448.0 L654.5,449.7 L655.5,451.5 L656.4,453.3 L657.4,455.0 L658.3,456.8 L659.2,458.6 L660.1,460.4 L661.0,462.2 L661.9,464.1 L662.8,465.9 L663.6,467.7 L664.5,469.6 L665.3,471.4 L666.1,473.3 L666.9,475.1 L667.7,477.0 L668.4,478.9 L669.2,480.7 L669.9,482.6 L670.6,484.5 L671.3,486.4 L672.0,488.3 L672.6,490.2 L673.3,492.1 L673.9,494.1" stroke="#2d5aa6" stroke-width="1.3" fill="none" stroke-linejoin="round"/>
<circle cx="520.5" cy="196.8" r="7.4" fill="#1d4fbd"/>
<text x="563.0" y="238.7" font-size="13.0" fill="#48484e" text-anchor="middle">3</text>
<text x="664.0" y="439.2" font-size="13.0" fill="#48484e" text-anchor="middle">2</text>
<rect x="523.5" y="276.0" width="15.0" height="12.0" fill="#fff"/><text x="531.0" y="286.7" font-size="13.0" fill="#48484e" text-anchor="middle">6</text>
<rect x="619.5" y="455.5" width="14.0" height="12.0" fill="#fff"/><text x="626.5" y="466.2" font-size="13.0" fill="#48484e" text-anchor="middle">5</text>
<text x="507.0" y="325.2" font-size="13.0" fill="#48484e" text-anchor="middle">9</text>
<rect x="585.5" y="474.5" width="12.0" height="20.0" fill="#fff"/><text x="591.5" y="489.2" font-size="13.0" fill="#48484e" text-anchor="middle">8</text>
<text x="645.6" y="635.1" font-size="13.0" fill="#48484e" text-anchor="middle">7</text>
<text x="686.4" y="635.9" font-size="13.0" fill="#48484e" text-anchor="middle">4</text>
<text x="732.8" y="634.3" font-size="13.0" fill="#48484e" text-anchor="middle">1</text>
<text x="0" y="0" font-size="14.5" fill="#48484e" text-anchor="middle" transform="translate(285.0,162.0) rotate(40.0) translate(0,5.2)">230V</text>
<text x="0" y="0" font-size="14.5" fill="#48484e" text-anchor="middle" transform="translate(284.5,208.0) rotate(37.0) translate(0,5.2)">170V</text>
<text x="0" y="0" font-size="14.5" fill="#48484e" text-anchor="middle" transform="translate(276.0,228.0) rotate(38.0) translate(0,5.2)">140V</text>
<text x="0" y="0" font-size="14.5" fill="#48484e" text-anchor="middle" transform="translate(261.0,261.0) rotate(32.0) translate(0,5.2)">115V</text>
<text x="0" y="0" font-size="14.0" fill="#3d62ab" text-anchor="middle" font-style="italic" letter-spacing="0.4" transform="translate(464.0,202.0) rotate(-40.0) translate(0,5.0)">700</text>
<text x="0" y="0" font-size="14.0" fill="#3d62ab" text-anchor="middle" font-style="italic" letter-spacing="0.4" transform="translate(533.5,249.0) rotate(5.0) translate(0,5.0)">600</text>
<text x="0" y="0" font-size="14.0" fill="#3d62ab" text-anchor="middle" font-style="italic" letter-spacing="0.4" transform="translate(566.0,303.0) rotate(25.0) translate(0,5.0)">550</text>
<text x="0" y="0" font-size="14.0" fill="#3d62ab" text-anchor="middle" font-style="italic" letter-spacing="0.4" transform="translate(607.0,387.0) rotate(50.0) translate(0,5.0)">500</text>
<text transform="translate(188.3,649.1) scale(0.800,1)" font-size="25.0" fill="#38383c" text-anchor="middle" stroke="#38383c" stroke-width="0.45">0</text>
<text transform="translate(172.9,559.0) scale(0.800,1)" font-size="25.0" fill="#38383c" text-anchor="middle" stroke="#38383c" stroke-width="0.45">5</text><text transform="translate(188.3,559.0) scale(0.800,1)" font-size="25.0" fill="#38383c" text-anchor="middle" stroke="#38383c" stroke-width="0.45">0</text>
<text transform="translate(157.5,468.9) scale(0.800,1)" font-size="25.0" fill="#38383c" text-anchor="middle" stroke="#38383c" stroke-width="0.45">1</text><text transform="translate(172.9,468.9) scale(0.800,1)" font-size="25.0" fill="#38383c" text-anchor="middle" stroke="#38383c" stroke-width="0.45">0</text><text transform="translate(188.3,468.9) scale(0.800,1)" font-size="25.0" fill="#38383c" text-anchor="middle" stroke="#38383c" stroke-width="0.45">0</text>
<text transform="translate(157.5,378.8) scale(0.800,1)" font-size="25.0" fill="#38383c" text-anchor="middle" stroke="#38383c" stroke-width="0.45">1</text><text transform="translate(172.9,378.8) scale(0.800,1)" font-size="25.0" fill="#38383c" text-anchor="middle" stroke="#38383c" stroke-width="0.45">5</text><text transform="translate(188.3,378.8) scale(0.800,1)" font-size="25.0" fill="#38383c" text-anchor="middle" stroke="#38383c" stroke-width="0.45">0</text>
<text transform="translate(157.5,288.7) scale(0.800,1)" font-size="25.0" fill="#38383c" text-anchor="middle" stroke="#38383c" stroke-width="0.45">2</text><text transform="translate(172.9,288.7) scale(0.800,1)" font-size="25.0" fill="#38383c" text-anchor="middle" stroke="#38383c" stroke-width="0.45">0</text><text transform="translate(188.3,288.7) scale(0.800,1)" font-size="25.0" fill="#38383c" text-anchor="middle" stroke="#38383c" stroke-width="0.45">0</text>
<text transform="translate(157.5,198.6) scale(0.800,1)" font-size="25.0" fill="#38383c" text-anchor="middle" stroke="#38383c" stroke-width="0.45">2</text><text transform="translate(172.9,198.6) scale(0.800,1)" font-size="25.0" fill="#38383c" text-anchor="middle" stroke="#38383c" stroke-width="0.45">5</text><text transform="translate(188.3,198.6) scale(0.800,1)" font-size="25.0" fill="#38383c" text-anchor="middle" stroke="#38383c" stroke-width="0.45">0</text>
<text transform="translate(210.0,679.0) scale(0.800,1)" font-size="25.0" fill="#38383c" text-anchor="middle" stroke="#38383c" stroke-width="0.45">0</text>
<text transform="translate(283.2,679.0) scale(0.800,1)" font-size="25.0" fill="#38383c" text-anchor="middle" stroke="#38383c" stroke-width="0.45">1</text><text transform="translate(298.6,679.0) scale(0.800,1)" font-size="25.0" fill="#38383c" text-anchor="middle" stroke="#38383c" stroke-width="0.45">0</text><text transform="translate(314.0,679.0) scale(0.800,1)" font-size="25.0" fill="#38383c" text-anchor="middle" stroke="#38383c" stroke-width="0.45">0</text><text transform="translate(329.4,679.0) scale(0.800,1)" font-size="25.0" fill="#38383c" text-anchor="middle" stroke="#38383c" stroke-width="0.45">0</text>
<text transform="translate(379.5,679.0) scale(0.800,1)" font-size="25.0" fill="#38383c" text-anchor="middle" stroke="#38383c" stroke-width="0.45">2</text><text transform="translate(394.9,679.0) scale(0.800,1)" font-size="25.0" fill="#38383c" text-anchor="middle" stroke="#38383c" stroke-width="0.45">0</text><text transform="translate(410.3,679.0) scale(0.800,1)" font-size="25.0" fill="#38383c" text-anchor="middle" stroke="#38383c" stroke-width="0.45">0</text><text transform="translate(425.7,679.0) scale(0.800,1)" font-size="25.0" fill="#38383c" text-anchor="middle" stroke="#38383c" stroke-width="0.45">0</text>
<text transform="translate(475.9,679.0) scale(0.800,1)" font-size="25.0" fill="#38383c" text-anchor="middle" stroke="#38383c" stroke-width="0.45">3</text><text transform="translate(491.3,679.0) scale(0.800,1)" font-size="25.0" fill="#38383c" text-anchor="middle" stroke="#38383c" stroke-width="0.45">0</text><text transform="translate(506.7,679.0) scale(0.800,1)" font-size="25.0" fill="#38383c" text-anchor="middle" stroke="#38383c" stroke-width="0.45">0</text><text transform="translate(522.1,679.0) scale(0.800,1)" font-size="25.0" fill="#38383c" text-anchor="middle" stroke="#38383c" stroke-width="0.45">0</text>
<text transform="translate(572.2,679.0) scale(0.800,1)" font-size="25.0" fill="#38383c" text-anchor="middle" stroke="#38383c" stroke-width="0.45">4</text><text transform="translate(587.6,679.0) scale(0.800,1)" font-size="25.0" fill="#38383c" text-anchor="middle" stroke="#38383c" stroke-width="0.45">0</text><text transform="translate(603.0,679.0) scale(0.800,1)" font-size="25.0" fill="#38383c" text-anchor="middle" stroke="#38383c" stroke-width="0.45">0</text><text transform="translate(618.4,679.0) scale(0.800,1)" font-size="25.0" fill="#38383c" text-anchor="middle" stroke="#38383c" stroke-width="0.45">0</text>
<text transform="translate(668.5,679.0) scale(0.800,1)" font-size="25.0" fill="#38383c" text-anchor="middle" stroke="#38383c" stroke-width="0.45">5</text><text transform="translate(683.9,679.0) scale(0.800,1)" font-size="25.0" fill="#38383c" text-anchor="middle" stroke="#38383c" stroke-width="0.45">0</text><text transform="translate(699.3,679.0) scale(0.800,1)" font-size="25.0" fill="#38383c" text-anchor="middle" stroke="#38383c" stroke-width="0.45">0</text><text transform="translate(714.7,679.0) scale(0.800,1)" font-size="25.0" fill="#38383c" text-anchor="middle" stroke="#38383c" stroke-width="0.45">0</text>
<text x="154" y="107" font-size="24" fill="#38383c">p</text>
<text x="166" y="115" font-size="14" fill="#38383c">sf</text>
<path d="M158.5,119.4H155.4V135.8H158.5 M184.4,119.4H187.5V135.8H184.4" stroke="#38383c" stroke-width="2" fill="none"/>
<text x="160" y="135.2" font-size="20" fill="#38383c" textLength="22" lengthAdjust="spacingAndGlyphs">Pa</text>
<text x="745.5" y="678" font-size="24" fill="#38383c">q</text>
<text x="757.5" y="685" font-size="12.5" fill="#38383c">v</text>
<text x="781.5" y="678" font-size="23" fill="#38383c">m</text>
<path d="M778.5,659.5H774.5V679.0H778.5 M832,659.5H836V679.0H832" stroke="#38383c" stroke-width="2" fill="none"/>
<text x="800" y="667" font-size="11.5" fill="#38383c">3</text>
<text x="807.5" y="678" font-size="23" fill="#38383c">/</text>
<text x="818" y="678" font-size="23" fill="#38383c">h</text>
<path d="M211.0,840.9 L213.0,840.5 L215.0,840.1 L216.9,839.7 L218.9,839.3 L220.9,839.0 L222.9,838.6 L224.8,838.3 L226.8,838.0 L228.8,837.7 L230.8,837.4 L232.8,837.1 L234.8,836.8 L236.7,836.6 L238.7,836.3 L240.7,836.1 L242.7,835.9 L244.7,835.7 L246.7,835.5 L248.7,835.3 L250.7,835.1 L252.7,834.9 L254.7,834.7 L256.7,834.6 L258.7,834.4 L260.7,834.3 L262.7,834.2 L264.7,834.1 L266.7,833.9 L268.7,833.8 L270.7,833.7 L272.7,833.7 L274.7,833.6 L276.7,833.5 L278.7,833.4 L280.7,833.4 L282.7,833.3 L284.7,833.3 L286.7,833.2 L288.7,833.2 L290.7,833.2 L292.7,833.1 L294.7,833.1 L296.8,833.1 L298.8,833.1 L300.8,833.0 L302.8,833.0 L304.8,833.0 L306.8,833.0 L308.8,832.9 L310.8,832.9 L312.8,832.9 L314.8,832.8 L316.8,832.8 L318.8,832.7 L320.8,832.7 L322.8,832.6 L324.8,832.5 L326.8,832.5 L328.8,832.4 L330.8,832.3 L332.8,832.1 L334.8,832.0 L336.8,831.9 L338.8,831.7 L340.8,831.6 L342.8,831.4 L344.8,831.2 L346.8,831.0 L348.8,830.7 L350.8,830.5 L352.8,830.2 L354.8,829.9 L356.7,829.6 L358.7,829.3 L360.7,828.9 L362.7,828.6 L364.6,828.2 L366.6,827.8 L368.6,827.4 L370.5,827.0 L372.5,826.5 L374.4,826.0 L376.4,825.6 L378.3,825.1 L380.2,824.5 L382.2,824.0 L384.1,823.4 L386.0,822.9 L387.9,822.3 L389.9,821.7 L391.8,821.1 L393.7,820.4 L395.6,819.8 L397.5,819.1 L399.3,818.4 L401.2,817.8 L403.1,817.0 L405.0,816.3 L406.8,815.6 L408.7,814.8 L410.5,814.1 L412.4,813.3 L414.2,812.5 L416.1,811.7 L417.9,810.8 L419.7,810.0 L421.5,809.1 L423.3,808.3 L425.1,807.4 L426.9,806.5 L428.7,805.6 L430.5,804.6 L432.2,803.7 L434.0,802.8 L435.8,801.8 L437.5,800.8 L439.3,799.8 L441.0,798.8 L442.7,797.8 L444.5,796.8 L446.2,795.8 L447.9,794.8 L449.6,793.7 L451.4,792.7 L453.1,791.7 L454.8,790.7 L456.5,789.6 L458.2,788.6 L460.0,787.6 L461.7,786.6 L463.4,785.5 L465.2,784.5 L466.9,783.5 L468.6,782.5 L470.4,781.5 L472.1,780.6 L473.9,779.6 L475.7,778.7 L477.4,777.7 L479.2,776.8 L481.0,775.9 L482.8,775.0 L484.6,774.2 L486.4,773.3 L488.2,772.5 L490.1,771.7 L491.9,770.9 L493.8,770.1 L495.6,769.3 L497.5,768.6 L499.4,767.9 L501.3,767.2 L503.2,766.6 L505.1,765.9 L507.0,765.3 L508.9,764.7 L510.8,764.2 L512.7,763.6 L514.7,763.1 L516.6,762.6 L518.6,762.1 L520.5,761.6 L522.5,761.2 L524.4,760.7 L526.4,760.3 L528.3,759.9 L530.3,759.5 L532.3,759.1 L534.2,758.7 L536.2,758.3 L538.2,757.9 L540.1,757.6 L542.1,757.2 L544.1,756.9 L546.1,756.5 L548.0,756.2 L550.0,755.9 L552.0,755.5 L554.0,755.2 L555.9,754.9 L557.9,754.5 L559.9,754.2 L561.9,753.9 L563.8,753.5 L565.8,753.2 L567.8,752.8 L569.8,752.5 L571.7,752.1 L573.7,751.8 L575.7,751.4 L577.7,751.0 L579.6,750.6 L581.6,750.2 L583.6,749.8 L585.5,749.4 L587.5,749.0 L589.4,748.6 L591.4,748.2 L593.4,747.8 L595.3,747.4 L597.3,747.0 L599.2,746.5 L601.2,746.1 L603.2,745.7 L605.1,745.2 L607.1,744.8 L609.0,744.3 L611.0,743.9 L612.9,743.4 L614.9,743.0 L616.8,742.5 L618.8,742.1 L620.8,741.6 L622.7,741.2 L624.7,740.7 L626.6,740.3 L628.6,739.8 L630.5,739.4 L632.5,738.9 L634.4,738.4 L636.4,738.0 L638.3,737.5 L640.3,737.1 L642.2,736.6 L644.2,736.2 L646.1,735.7 L648.1,735.3 L650.0,734.8 L652.0,734.4 L654.0,733.9 L655.9,733.5 L657.9,733.0 L659.8,732.6 L661.8,732.2 L663.7,731.8 L665.7,731.3 L667.7,730.9 L669.6,730.5 L671.6,730.1 L673.5,729.7 L675.5,729.3 L677.5,728.9 L679.4,728.5 L681.4,728.1 L683.4,727.7 L685.3,727.3 L687.3,727.0 L689.3,726.6 L691.3,726.2 L693.2,725.9 L695.2,725.5 L697.2,725.2 L699.2,724.9 L701.1,724.5 L703.1,724.2 L705.1,723.9 L707.1,723.6 L709.1,723.3 L711.0,723.0 L713.0,722.8 L715.0,722.5 L717.0,722.2 L719.0,722.0 L721.0,721.7 L723.0,721.5" stroke="#e4202f" stroke-width="2.9" fill="none" stroke-linecap="round" stroke-linejoin="round"/>
<path d="M211.0,885.3 L212.9,884.9 L214.9,884.4 L216.8,884.0 L218.8,883.6 L220.7,883.2 L222.7,882.8 L224.7,882.4 L226.6,882.1 L228.6,881.7 L230.6,881.4 L232.6,881.0 L234.5,880.7 L236.5,880.4 L238.5,880.1 L240.5,879.8 L242.5,879.6 L244.4,879.3 L246.4,879.1 L248.4,878.8 L250.4,878.6 L252.4,878.4 L254.4,878.2 L256.4,878.1 L258.4,877.9 L260.4,877.7 L262.4,877.6 L264.4,877.5 L266.4,877.3 L268.4,877.2 L270.4,877.1 L272.4,877.1 L274.4,877.0 L276.4,876.9 L278.4,876.9 L280.4,876.9 L282.4,876.8 L284.4,876.8 L286.4,876.8 L288.4,876.8 L290.4,876.8 L292.4,876.8 L294.4,876.9 L296.4,876.9 L298.4,876.9 L300.4,876.9 L302.4,876.9 L304.4,876.9 L306.4,877.0 L308.4,877.0 L310.4,877.0 L312.4,877.0 L314.4,877.0 L316.4,877.0 L318.4,876.9 L320.4,876.9 L322.4,876.8 L324.4,876.8 L326.4,876.7 L328.4,876.6 L330.4,876.5 L332.4,876.4 L334.4,876.3 L336.4,876.1 L338.4,875.9 L340.4,875.8 L342.4,875.5 L344.4,875.3 L346.4,875.0 L348.4,874.7 L350.3,874.4 L352.3,874.1 L354.3,873.7 L356.2,873.4 L358.2,872.9 L360.2,872.5 L362.1,872.1 L364.0,871.6 L366.0,871.1 L367.9,870.5 L369.8,870.0 L371.8,869.4 L373.7,868.8 L375.6,868.1 L377.4,867.5 L379.3,866.8 L381.2,866.1 L383.1,865.3 L384.9,864.6 L386.7,863.8 L388.6,862.9 L390.4,862.1 L392.2,861.2 L394.0,860.3 L395.8,859.4 L397.5,858.5 L399.3,857.5 L401.1,856.6 L402.8,855.6 L404.5,854.6 L406.3,853.6 L408.0,852.6 L409.7,851.6 L411.4,850.5 L413.2,849.5 L414.9,848.5 L416.6,847.4 L418.3,846.4 L420.0,845.3 L421.7,844.3 L423.4,843.2 L425.1,842.2 L426.8,841.1 L428.5,840.1 L430.2,839.0 L431.9,838.0 L433.7,837.0 L435.4,835.9 L437.1,834.9 L438.8,833.9 L440.5,832.9 L442.3,831.9 L444.0,830.9 L445.8,829.9 L447.5,828.9 L449.3,827.9 L451.0,827.0 L452.8,826.0 L454.5,825.1 L456.3,824.2 L458.1,823.2 L459.9,822.3 L461.7,821.5 L463.5,820.6 L465.3,819.7 L467.1,818.9 L468.9,818.1 L470.8,817.2 L472.6,816.5 L474.4,815.7 L476.3,814.9 L478.2,814.2 L480.0,813.5 L481.9,812.8 L483.8,812.1 L485.7,811.5 L487.6,810.9 L489.5,810.3 L491.4,809.7 L493.3,809.1 L495.3,808.6 L497.2,808.0 L499.1,807.5 L501.1,807.0 L503.0,806.5 L505.0,806.0 L506.9,805.5 L508.8,805.1 L510.8,804.6 L512.8,804.2 L514.7,803.8 L516.7,803.3 L518.6,802.9 L520.6,802.5 L522.6,802.1 L524.5,801.7 L526.5,801.4 L528.4,801.0 L530.4,800.6 L532.4,800.2 L534.3,799.8 L536.3,799.5 L538.3,799.1 L540.2,798.7 L542.2,798.3 L544.2,797.9 L546.1,797.6 L548.1,797.2 L550.1,796.8 L552.0,796.4 L554.0,796.0 L556.0,795.6 L557.9,795.2 L559.9,794.8 L561.8,794.4 L563.8,794.0 L565.8,793.6 L567.7,793.1 L569.7,792.7 L571.6,792.2 L573.6,791.8 L575.5,791.3 L577.5,790.9 L579.4,790.4 L581.4,789.9 L583.3,789.4 L585.2,788.9 L587.2,788.4 L589.1,787.9 L591.0,787.4 L593.0,786.8 L594.9,786.3 L596.8,785.7 L598.7,785.1 L600.6,784.5 L602.5,783.9 L604.5,783.3 L606.4,782.7 L608.3,782.1 L610.2,781.5 L612.1,780.8 L614.0,780.2 L615.9,779.6 L617.8,778.9 L619.7,778.3 L621.6,777.7 L623.5,777.1 L625.4,776.5 L627.3,775.9 L629.2,775.3 L631.1,774.7 L633.0,774.1 L635.0,773.6 L636.9,773.0 L638.8,772.5 L640.8,772.0 L642.7,771.5 L644.6,771.0 L646.6,770.5 L648.5,770.1 L650.5,769.7 L652.5,769.3 L654.4,768.9 L656.4,768.6 L658.4,768.2 L660.4,767.9 L662.4,767.7 L664.3,767.5 L666.3,767.3 L668.3,767.1 L670.3,767.0 L672.3,766.9 L674.3,766.8 L676.3,766.8 L678.3,766.8 L680.3,766.9" stroke="#e4202f" stroke-width="2.9" fill="none" stroke-linecap="round" stroke-linejoin="round"/>
<path d="M211.0,897.1 L213.0,896.9 L215.0,896.6 L217.0,896.4 L219.0,896.1 L221.0,895.9 L223.0,895.6 L225.0,895.3 L226.9,895.1 L228.9,894.8 L230.9,894.5 L232.9,894.2 L234.9,894.0 L236.9,893.7 L238.9,893.4 L240.9,893.1 L242.9,892.9 L244.8,892.6 L246.8,892.3 L248.8,892.1 L250.8,891.8 L252.8,891.6 L254.8,891.3 L256.8,891.1 L258.8,890.9 L260.8,890.7 L262.8,890.5 L264.8,890.3 L266.8,890.1 L268.8,889.9 L270.8,889.7 L272.8,889.6 L274.8,889.5 L276.8,889.3 L278.8,889.2 L280.8,889.1 L282.8,889.1 L284.8,889.0 L286.8,889.0 L288.9,889.0 L290.9,889.0 L292.9,889.0 L294.9,889.0 L296.9,889.1 L298.9,889.1 L300.9,889.2 L302.9,889.2 L304.9,889.3 L306.9,889.4 L308.9,889.5 L310.9,889.6 L312.9,889.6 L315.0,889.7 L317.0,889.8 L319.0,889.8 L321.0,889.9 L323.0,889.9 L325.0,889.9 L327.0,890.0 L329.0,890.0 L331.0,889.9 L333.0,889.9 L335.0,889.8 L337.0,889.7 L339.0,889.6 L341.1,889.5 L343.1,889.3 L345.1,889.2 L347.1,889.0 L349.1,888.7 L351.0,888.5 L353.0,888.2 L355.0,887.9 L357.0,887.6 L359.0,887.3 L361.0,886.9 L362.9,886.5 L364.9,886.0 L366.8,885.6 L368.8,885.1 L370.7,884.6 L372.7,884.0 L374.6,883.4 L376.5,882.8 L378.4,882.2 L380.3,881.5 L382.2,880.8 L384.1,880.1 L385.9,879.3 L387.8,878.6 L389.6,877.7 L391.4,876.9 L393.2,876.0 L395.0,875.1 L396.8,874.1 L398.5,873.1 L400.2,872.1 L402.0,871.1 L403.6,870.0 L405.3,868.9 L407.0,867.7 L408.6,866.6 L410.2,865.4 L411.8,864.2 L413.4,863.0 L415.0,861.7 L416.6,860.5 L418.2,859.2 L419.7,858.0 L421.3,856.7 L422.9,855.4 L424.4,854.2 L426.0,852.9 L427.6,851.7 L429.1,850.4 L430.7,849.2 L432.3,848.0 L433.9,846.8 L435.6,845.6 L437.2,844.5 L438.9,843.3 L440.5,842.2 L442.2,841.1 L443.9,840.0 L445.6,839.0 L447.4,838.0 L449.1,837.0 L450.8,836.0 L452.6,835.0 L454.4,834.1 L456.2,833.2 L458.0,832.3 L459.8,831.4 L461.6,830.6 L463.5,829.8 L465.3,829.0 L467.2,828.2 L469.0,827.5 L470.9,826.7 L472.8,826.1 L474.7,825.4 L476.6,824.7 L478.5,824.1 L480.4,823.5 L482.3,822.9 L484.2,822.3 L486.2,821.8 L488.1,821.2 L490.1,820.7 L492.0,820.2 L493.9,819.7 L495.9,819.3 L497.9,818.8 L499.8,818.3 L501.8,817.9 L503.7,817.5 L505.7,817.0 L507.7,816.6 L509.6,816.2 L511.6,815.8 L513.6,815.4 L515.5,815.0 L517.5,814.6 L519.5,814.2 L521.4,813.8 L523.4,813.4 L525.4,813.0 L527.3,812.6 L529.3,812.2 L531.3,811.8 L533.2,811.4 L535.2,811.0 L537.2,810.6 L539.1,810.2 L541.1,809.8 L543.1,809.3 L545.0,808.9 L547.0,808.4 L548.9,808.0 L550.9,807.5 L552.8,807.0 L554.8,806.6 L556.7,806.1 L558.7,805.6 L560.6,805.1 L562.6,804.6 L564.5,804.1 L566.5,803.6 L568.4,803.1 L570.4,802.6 L572.3,802.1 L574.3,801.6 L576.2,801.1 L578.2,800.6 L580.1,800.1 L582.0,799.6 L584.0,799.1 L585.9,798.6 L587.9,798.1 L589.8,797.6 L591.8,797.2 L593.7,796.7 L595.7,796.2 L597.6,795.7 L599.6,795.3 L601.6,794.8 L603.5,794.4 L605.5,793.9 L607.4,793.5 L609.4,793.1 L611.4,792.6 L613.3,792.2 L615.3,791.8 L617.3,791.4 L619.2,791.1 L621.2,790.7 L623.2,790.3 L625.2,790.0 L627.1,789.7 L629.1,789.3 L631.1,789.0 L633.1,788.8 L635.1,788.5 L637.1,788.2 L639.1,788.0" stroke="#e4202f" stroke-width="2.9" fill="none" stroke-linecap="round" stroke-linejoin="round"/>
<path d="M211.0,908.1 L213.0,907.8 L215.0,907.5 L216.9,907.3 L218.9,907.0 L220.9,906.7 L222.9,906.4 L224.9,906.2 L226.9,905.9 L228.9,905.7 L230.8,905.4 L232.8,905.1 L234.8,904.9 L236.8,904.6 L238.8,904.4 L240.8,904.1 L242.8,903.9 L244.8,903.6 L246.7,903.4 L248.7,903.1 L250.7,902.9 L252.7,902.7 L254.7,902.5 L256.7,902.2 L258.7,902.0 L260.7,901.8 L262.7,901.6 L264.7,901.4 L266.7,901.3 L268.7,901.1 L270.7,900.9 L272.6,900.8 L274.6,900.6 L276.6,900.5 L278.6,900.3 L280.6,900.2 L282.6,900.1 L284.6,900.0 L286.6,899.9 L288.6,899.8 L290.6,899.7 L292.6,899.6 L294.6,899.6 L296.7,899.5 L298.7,899.5 L300.7,899.5 L302.7,899.5 L304.7,899.5 L306.7,899.5 L308.7,899.5 L310.7,899.5 L312.7,899.6 L314.7,899.6 L316.7,899.7 L318.7,899.8 L320.7,899.8 L322.7,899.9 L324.7,899.9 L326.7,900.0 L328.7,900.0 L330.7,900.0 L332.7,900.0 L334.7,900.0 L336.7,900.0 L338.7,899.9 L340.7,899.8 L342.7,899.7 L344.7,899.6 L346.7,899.4 L348.7,899.2 L350.7,899.0 L352.7,898.7 L354.6,898.4 L356.6,898.0 L358.6,897.6 L360.5,897.1 L362.5,896.6 L364.4,896.1 L366.3,895.5 L368.2,894.8 L370.1,894.1 L371.9,893.4 L373.8,892.6 L375.6,891.8 L377.4,890.9 L379.2,890.1 L381.0,889.1 L382.7,888.1 L384.5,887.1 L386.2,886.1 L387.8,885.0 L389.5,883.8 L391.1,882.7 L392.7,881.5 L394.3,880.3 L395.9,879.0 L397.4,877.8 L399.0,876.5 L400.5,875.2 L402.0,873.9 L403.6,872.6 L405.1,871.2 L406.6,869.9 L408.1,868.6 L409.6,867.3 L411.1,865.9 L412.6,864.6 L414.1,863.3 L415.6,862.0 L417.2,860.7 L418.7,859.5 L420.3,858.2 L421.9,857.0 L423.5,855.8 L425.1,854.7 L426.8,853.5 L428.5,852.5 L430.2,851.4 L431.9,850.4 L433.7,849.5 L435.5,848.6 L437.3,847.8 L439.2,847.0 L441.0,846.3 L442.9,845.7 L444.8,845.1 L446.8,844.5 L448.7,844.0 L450.6,843.5 L452.6,843.1 L454.6,842.6 L456.5,842.2 L458.5,841.9 L460.5,841.5 L462.4,841.1 L464.4,840.8 L466.4,840.5 L468.3,840.1 L470.3,839.8 L472.3,839.4 L474.3,839.1 L476.2,838.7 L478.2,838.4 L480.2,838.0 L482.1,837.6 L484.1,837.3 L486.1,836.9 L488.0,836.5 L490.0,836.1 L492.0,835.7 L493.9,835.3 L495.9,834.9 L497.9,834.5 L499.8,834.1 L501.8,833.7 L503.7,833.3 L505.7,832.9 L507.7,832.5 L509.6,832.0 L511.6,831.6 L513.5,831.2 L515.5,830.7 L517.5,830.3 L519.4,829.9 L521.4,829.4 L523.3,829.0 L525.3,828.5 L527.2,828.1 L529.2,827.6 L531.1,827.2 L533.1,826.7 L535.0,826.3 L537.0,825.8 L538.9,825.4 L540.9,824.9 L542.8,824.4 L544.8,824.0 L546.7,823.5 L548.7,823.0 L550.6,822.6 L552.6,822.1 L554.5,821.6 L556.5,821.2" stroke="#e4202f" stroke-width="2.9" fill="none" stroke-linecap="round" stroke-linejoin="round"/>
<path d="M306.8,712.9V939.0 M403.1,712.9V939.0 M499.5,712.9V939.0 M595.8,712.9V939.0 M692.1,712.9V939.0 M203.0,887.4H788.4 M203.0,843.8H788.4 M203.0,800.1H788.4 M203.0,756.5H788.4 M210.5,712.9H788.4 M788.4,712.9V931.0" stroke="#2e2e2e" stroke-width="1.5" fill="none"/>
<path d="M206.0,922.3H210.5 M206.0,913.6H210.5 M206.0,904.8H210.5 M206.0,896.1H210.5 M206.0,878.7H210.5 M206.0,869.9H210.5 M206.0,861.2H210.5 M206.0,852.5H210.5 M206.0,835.0H210.5 M206.0,826.3H210.5 M206.0,817.6H210.5 M206.0,808.9H210.5 M206.0,791.4H210.5 M206.0,782.7H210.5 M206.0,774.0H210.5 M206.0,765.2H210.5 M206.0,747.8H210.5 M206.0,739.1H210.5 M206.0,730.3H210.5 M206.0,721.6H210.5 M229.8,931.0V936.0 M249.0,931.0V936.0 M268.3,931.0V936.0 M287.6,931.0V936.0 M326.1,931.0V936.0 M345.3,931.0V936.0 M364.6,931.0V936.0 M383.9,931.0V936.0 M422.4,931.0V936.0 M441.7,931.0V936.0 M460.9,931.0V936.0 M480.2,931.0V936.0 M518.7,931.0V936.0 M538.0,931.0V936.0 M557.3,931.0V936.0 M576.5,931.0V936.0 M615.0,931.0V936.0 M634.3,931.0V936.0 M653.6,931.0V936.0 M672.8,931.0V936.0 M711.4,931.0V936.0 M730.6,931.0V936.0 M749.9,931.0V936.0 M769.2,931.0V936.0 M210.5,931.0V939.0" stroke="#444" stroke-width="1.5" fill="none"/>
<path d="M210.5,712.4V932.0 M203.0,931.0H789.2" stroke="#6e6e6e" stroke-width="2.4" fill="none"/>
<path d="M203.0,931.0H789.2" stroke="#3a3a3a" stroke-width="2" fill="none"/>
<rect x="728.0" y="715.8" width="36.0" height="25.0" fill="#fff"/><text x="730.0" y="733.8" font-size="14.5" fill="#d6414f" textLength="33.0" lengthAdjust="spacingAndGlyphs">230V</text>
<rect x="686.0" y="758.0" width="36.0" height="24.0" fill="#fff"/><text x="688.0" y="775.0" font-size="14.5" fill="#d6414f" textLength="33.0" lengthAdjust="spacingAndGlyphs">170V</text>
<rect x="644.0" y="782.0" width="36.0" height="17.0" fill="#fff"/><text x="646.0" y="796.0" font-size="14.5" fill="#d6414f" textLength="33.0" lengthAdjust="spacingAndGlyphs">140V</text>
<rect x="565.0" y="813.0" width="36.0" height="25.0" fill="#fff"/><text x="567.0" y="831.0" font-size="14.5" fill="#d6414f" textLength="33.0" lengthAdjust="spacingAndGlyphs">115V</text>
<text transform="translate(157.5,939.3) scale(0.800,1)" font-size="25.0" fill="#d6414f" text-anchor="middle" stroke="#d6414f" stroke-width="0.45">2</text><text transform="translate(172.9,939.3) scale(0.800,1)" font-size="25.0" fill="#d6414f" text-anchor="middle" stroke="#d6414f" stroke-width="0.45">0</text><text transform="translate(188.3,939.3) scale(0.800,1)" font-size="25.0" fill="#d6414f" text-anchor="middle" stroke="#d6414f" stroke-width="0.45">0</text>
<text transform="translate(157.5,895.7) scale(0.800,1)" font-size="25.0" fill="#d6414f" text-anchor="middle" stroke="#d6414f" stroke-width="0.45">3</text><text transform="translate(172.9,895.7) scale(0.800,1)" font-size="25.0" fill="#d6414f" text-anchor="middle" stroke="#d6414f" stroke-width="0.45">0</text><text transform="translate(188.3,895.7) scale(0.800,1)" font-size="25.0" fill="#d6414f" text-anchor="middle" stroke="#d6414f" stroke-width="0.45">0</text>
<text transform="translate(157.5,852.1) scale(0.800,1)" font-size="25.0" fill="#d6414f" text-anchor="middle" stroke="#d6414f" stroke-width="0.45">4</text><text transform="translate(172.9,852.1) scale(0.800,1)" font-size="25.0" fill="#d6414f" text-anchor="middle" stroke="#d6414f" stroke-width="0.45">0</text><text transform="translate(188.3,852.1) scale(0.800,1)" font-size="25.0" fill="#d6414f" text-anchor="middle" stroke="#d6414f" stroke-width="0.45">0</text>
<text transform="translate(157.5,808.4) scale(0.800,1)" font-size="25.0" fill="#d6414f" text-anchor="middle" stroke="#d6414f" stroke-width="0.45">5</text><text transform="translate(172.9,808.4) scale(0.800,1)" font-size="25.0" fill="#d6414f" text-anchor="middle" stroke="#d6414f" stroke-width="0.45">0</text><text transform="translate(188.3,808.4) scale(0.800,1)" font-size="25.0" fill="#d6414f" text-anchor="middle" stroke="#d6414f" stroke-width="0.45">0</text>
<text transform="translate(157.5,764.8) scale(0.800,1)" font-size="25.0" fill="#d6414f" text-anchor="middle" stroke="#d6414f" stroke-width="0.45">6</text><text transform="translate(172.9,764.8) scale(0.800,1)" font-size="25.0" fill="#d6414f" text-anchor="middle" stroke="#d6414f" stroke-width="0.45">0</text><text transform="translate(188.3,764.8) scale(0.800,1)" font-size="25.0" fill="#d6414f" text-anchor="middle" stroke="#d6414f" stroke-width="0.45">0</text>
<text x="149.8" y="723.7" font-size="26" fill="#d6414f">P</text>
<text x="167" y="721" font-size="20" fill="#d6414f">[W]</text>
<text transform="translate(210.0,968.0) scale(0.800,1)" font-size="25.0" fill="#38383c" text-anchor="middle" stroke="#38383c" stroke-width="0.45">0</text>
<text transform="translate(379.5,968.0) scale(0.800,1)" font-size="25.0" fill="#38383c" text-anchor="middle" stroke="#38383c" stroke-width="0.45">2</text><text transform="translate(394.9,968.0) scale(0.800,1)" font-size="25.0" fill="#38383c" text-anchor="middle" stroke="#38383c" stroke-width="0.45">0</text><text transform="translate(410.3,968.0) scale(0.800,1)" font-size="25.0" fill="#38383c" text-anchor="middle" stroke="#38383c" stroke-width="0.45">0</text><text transform="translate(425.7,968.0) scale(0.800,1)" font-size="25.0" fill="#38383c" text-anchor="middle" stroke="#38383c" stroke-width="0.45">0</text>
<text transform="translate(572.2,968.0) scale(0.800,1)" font-size="25.0" fill="#38383c" text-anchor="middle" stroke="#38383c" stroke-width="0.45">4</text><text transform="translate(587.6,968.0) scale(0.800,1)" font-size="25.0" fill="#38383c" text-anchor="middle" stroke="#38383c" stroke-width="0.45">0</text><text transform="translate(603.0,968.0) scale(0.800,1)" font-size="25.0" fill="#38383c" text-anchor="middle" stroke="#38383c" stroke-width="0.45">0</text><text transform="translate(618.4,968.0) scale(0.800,1)" font-size="25.0" fill="#38383c" text-anchor="middle" stroke="#38383c" stroke-width="0.45">0</text>
<text x="745.5" y="968" font-size="24" fill="#38383c">q</text>
<text x="757.5" y="975" font-size="12.5" fill="#38383c">v</text>
<text x="781.5" y="968" font-size="23" fill="#38383c">m</text>
<path d="M778.5,949.5H774.5V969.0H778.5 M832,949.5H836V969.0H832" stroke="#38383c" stroke-width="2" fill="none"/>
<text x="800" y="957" font-size="11.5" fill="#38383c">3</text>
<text x="807.5" y="968" font-size="23" fill="#38383c">/</text>
<text x="818" y="968" font-size="23" fill="#38383c">h</text>
</svg></body></html>
